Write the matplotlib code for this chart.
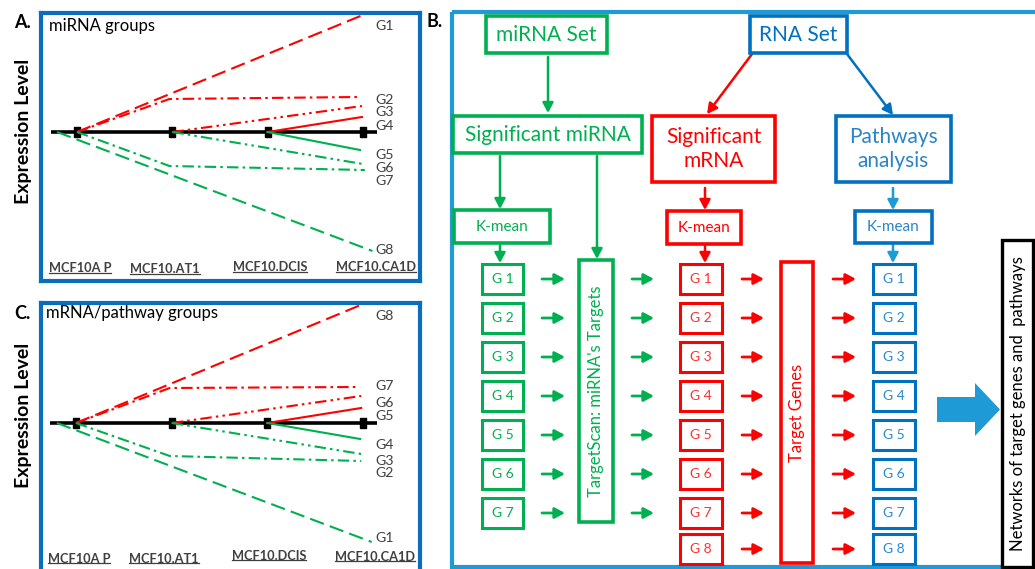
import matplotlib
matplotlib.use("Agg")
import matplotlib.pyplot as plt
from matplotlib.patches import Rectangle, Polygon

plt.rcParams['font.family'] = ['Lato', 'DejaVu Sans']

W, H = 1035, 569

RED = "#ff0000"
GREEN = "#00b050"
BLUE = "#0070c0"
SKY = "#1e9bd7"
FRAME = "#0a6ebd"
GREY = "#404040"

stages = ["MCF10A P", "MCF10.AT1", "MCF10.DCIS", "MCF10.CA1D"]
stage_pos = [0, 1, 2, 3]

# miRNA group profiles (stage coordinate, relative expression)
mirna_x = [[0, 3.0], [0, 0.97, 2.95], [1, 2.99], [2, 2.99],
           [2, 2.97], [1, 3.0], [0, 0.97, 3.02], [-0.21, 3.1]]
mirna_y = [[0, 11.7], [0, 3.3, 3.5], [0, 2.6], [0, 1.5],
           [0, -1.8], [0, -3.2], [0, -3.4, -3.8], [0, -11.9]]
mirna_labels = ["G1", "G2", "G3", "G4", "G5", "G6", "G7", "G8"]
mirna_label_y = [10.6, 3.2, 2.0, 0.6, -2.3, -3.6, -4.9, -11.8]

# mRNA/pathway group profiles
mrna_x = [[0, 3.0], [0, 0.98, 2.94], [1, 2.98], [2, 2.98],
          [2, 2.97], [1, 2.98], [0, 0.98, 2.98], [-0.2, 3.09]]
mrna_y = [[0, 11.9], [0, 3.5, 3.6], [0, 2.7], [0, 1.5],
          [0, -1.6], [0, -3.1], [0, -3.3, -3.8], [0, -11.9]]
mrna_labels = ["G8", "G7", "G6", "G5", "G4", "G3", "G2", "G1"]
mrna_label_y = [10.7, 3.7, 2.0, 0.7, -2.2, -3.8, -5.0, -11.5]

# cluster boxes in the workflow
mirna_clusters = ["G 1", "G 2", "G 3", "G 4", "G 5", "G 6", "G 7"]
mrna_clusters = ["G 1", "G 2", "G 3", "G 4", "G 5", "G 6", "G 7", "G 8"]

DASH = (0, (7, 3))
DASHDOT = (0, (5.5, 2, 1.2, 2))
DASHDOTDOT = (0, (5.5, 2, 1.2, 2, 1.2, 2))
curve_styles = [(RED, DASH), (RED, DASHDOT), (RED, DASHDOTDOT), (RED, "-"),
                (GREEN, "-"), (GREEN, DASHDOTDOT), (GREEN, DASHDOT), (GREEN, DASH)]

STAGE_MARK = [(-0.32, -0.5), (0.32, -0.5), (0.32, 0.5), (-0.32, 0.5), (-0.32, -0.5)]

fig = plt.figure(figsize=(W / 100, H / 100), dpi=100)


def px_axes(left, top, right, bottom):
    return fig.add_axes([left / W, 1 - bottom / H, (right - left) / W, (bottom - top) / H])


def profile_panel(box, x0, dx, base, xs, ys, labels, label_y):
    left, top, right, bottom = box
    pa = px_axes(*box)
    pa.set_xlim((left - x0) / dx, (right - x0) / dx)
    pa.set_ylim((base - bottom) / 10, (base - top) / 10)
    pa.set_xticks([])
    pa.set_yticks([])
    for sp in pa.spines.values():
        sp.set_color(FRAME)
        sp.set_linewidth(3)
    pa.plot([-0.27, 3.15], [0, 0], color="black", lw=2.6, solid_capstyle="butt", zorder=2)
    pa.plot(stage_pos, [0] * len(stage_pos), ls="none", marker=STAGE_MARK,
            ms=7, color="black", zorder=3)
    for gx, gy, (c, ls) in zip(xs, ys, curve_styles):
        pa.plot(gx, gy, color=c, ls=ls, lw=1.5, zorder=4)
    lx = (375 - x0) / dx
    for lab, ly in zip(labels, label_y):
        pa.text(lx, ly, lab, fontsize=10.2, color=GREY, va="center", ha="left")
    return pa


pa_a = profile_panel((41, 13, 420, 281), 77, 95.3, 132, mirna_x, mirna_y, mirna_labels, mirna_label_y)
pa_c = profile_panel((41, 303, 420, 572), 76, 95.7, 423, mrna_x, mrna_y, mrna_labels, mrna_label_y)

# overlay in pixel coordinates for the workflow and panel captions
ax = fig.add_axes([0, 0, 1, 1])
ax.set_xlim(0, W)
ax.set_ylim(H, 0)
ax.axis("off")
ax.patch.set_visible(False)

ax.text(14, 22, "A.", fontsize=13, fontweight="bold", va="center")
ax.text(14, 313, "C.", fontsize=13, fontweight="bold", va="center")
ax.text(426, 21, "B.", fontsize=13, fontweight="bold", va="center")
ax.text(49, 26, "miRNA groups", fontsize=12, va="center")
ax.text(46, 313, "mRNA/pathway groups", fontsize=12, va="center")
for yc in (131, 415):
    ax.text(24, yc, "Expression Level", fontsize=14, fontweight="bold",
            rotation=90, ha="center", va="center")

stage_text = []
for xs_lab, ys_lab in (([80, 165, 270, 376], [268, 269, 267, 267]),
                       ([79, 164, 269, 375], [559, 559, 556, 557])):
    for name, xl, yl in zip(stages, xs_lab, ys_lab):
        stage_text.append(ax.text(xl, yl, name, fontsize=9.2, fontweight="bold",
                                  color=GREY, ha="center", va="center"))

# panel B frame, open on the right
ax.add_patch(Rectangle((452, 12), 640, 555, fill=False, ec=SKY, lw=3))


def box(x0, y0, x1, y1, color, lw=2.6, text=None, tcolor=None, size=15, rot=0):
    ax.add_patch(Rectangle((x0, y0), x1 - x0, y1 - y0, fill=True, fc="white",
                           ec=color, lw=lw, zorder=3))
    if text:
        ax.text((x0 + x1) / 2, (y0 + y1) / 2, text, color=tcolor or color, fontsize=size,
                ha="center", va="center", rotation=rot, zorder=4, linespacing=1.25)


def arrow(x0, y0, x1, y1, color, lw=1.8):
    ax.annotate("", xy=(x1, y1), xytext=(x0, y0), zorder=2,
                arrowprops=dict(arrowstyle="-|>,head_length=0.6,head_width=0.32",
                                color=color, lw=lw, shrinkA=0, shrinkB=0, mutation_scale=10))


box(486, 16, 607, 53, GREEN, text="miRNA Set")
box(453, 116, 642, 153, GREEN, text="Significant miRNA")
box(454, 210, 550, 243, GREEN, text="K-mean", size=11)
box(750, 16, 847, 53, BLUE, text="RNA Set")
box(652, 116, 775, 182, RED, text="Significant\nmRNA")
box(667, 211, 741, 244, RED, text="K-mean", size=11)
box(836, 116, 951, 182, BLUE, text="Pathways\nanalysis", tcolor="#2a84c8")
box(855, 211, 932, 243, BLUE, text="K-mean", tcolor="#2a84c8", size=11)

arrow(548, 57, 548, 113, GREEN)
arrow(500, 156, 500, 209, GREEN)
arrow(597, 156, 597, 259, GREEN)
arrow(500, 245, 500, 263, GREEN)
arrow(752, 54, 707, 114, RED)
arrow(705, 188, 705, 210, RED)
arrow(705, 246, 705, 263, RED)
arrow(847, 54, 893, 115, BLUE)
arrow(893, 188, 893, 210, SKY)
arrow(893, 245, 893, 263, SKY)

row_y = [279, 318, 357, 396, 435, 474, 513, 549]
for lab, yc in zip(mirna_clusters, row_y):
    box(482, yc - 15, 523, yc + 15, GREEN, lw=2.2, text=lab, size=10)
    arrow(542, yc, 565, yc, GREEN, lw=2)
    arrow(632, yc, 654, yc, GREEN, lw=2)
for lab, yc in zip(mrna_clusters, row_y):
    box(680, yc - 15, 722, yc + 15, RED, lw=2.2, text=lab, tcolor="#ff3030", size=10)
    box(873, yc - 15, 915, yc + 15, BLUE, lw=2.2, text=lab, tcolor="#2a8ad2", size=10)
    arrow(742, yc, 764, yc, RED, lw=2)
    arrow(833, yc, 856, yc, RED, lw=2)

box(579, 260, 613, 522, GREEN, text="TargetScan: miRNA's Targets", size=12, rot=90)
box(781, 262, 813, 563, RED, text="Target Genes", size=12, rot=90)
box(1002, 240, 1033, 567, "black", lw=2.4, text="Networks of target genes and  pathways",
    size=12, rot=90)

ax.add_patch(Polygon([(937, 397), (975, 397), (975, 383), (1000, 409.5),
                      (975, 436), (975, 422), (937, 422)], closed=True, fc=SKY, ec="none"))

# underline the stage names
fig.canvas.draw()
inv = ax.transData.inverted()
for t in stage_text:
    bb = t.get_window_extent()
    (xa, ya), (xb, _) = inv.transform([(bb.x0, bb.y0), (bb.x1, bb.y0)])
    ax.plot([xa, xb], [ya - 1.5, ya - 1.5], color=GREY, lw=0.9)

fig.savefig("out.png", dpi=100)
